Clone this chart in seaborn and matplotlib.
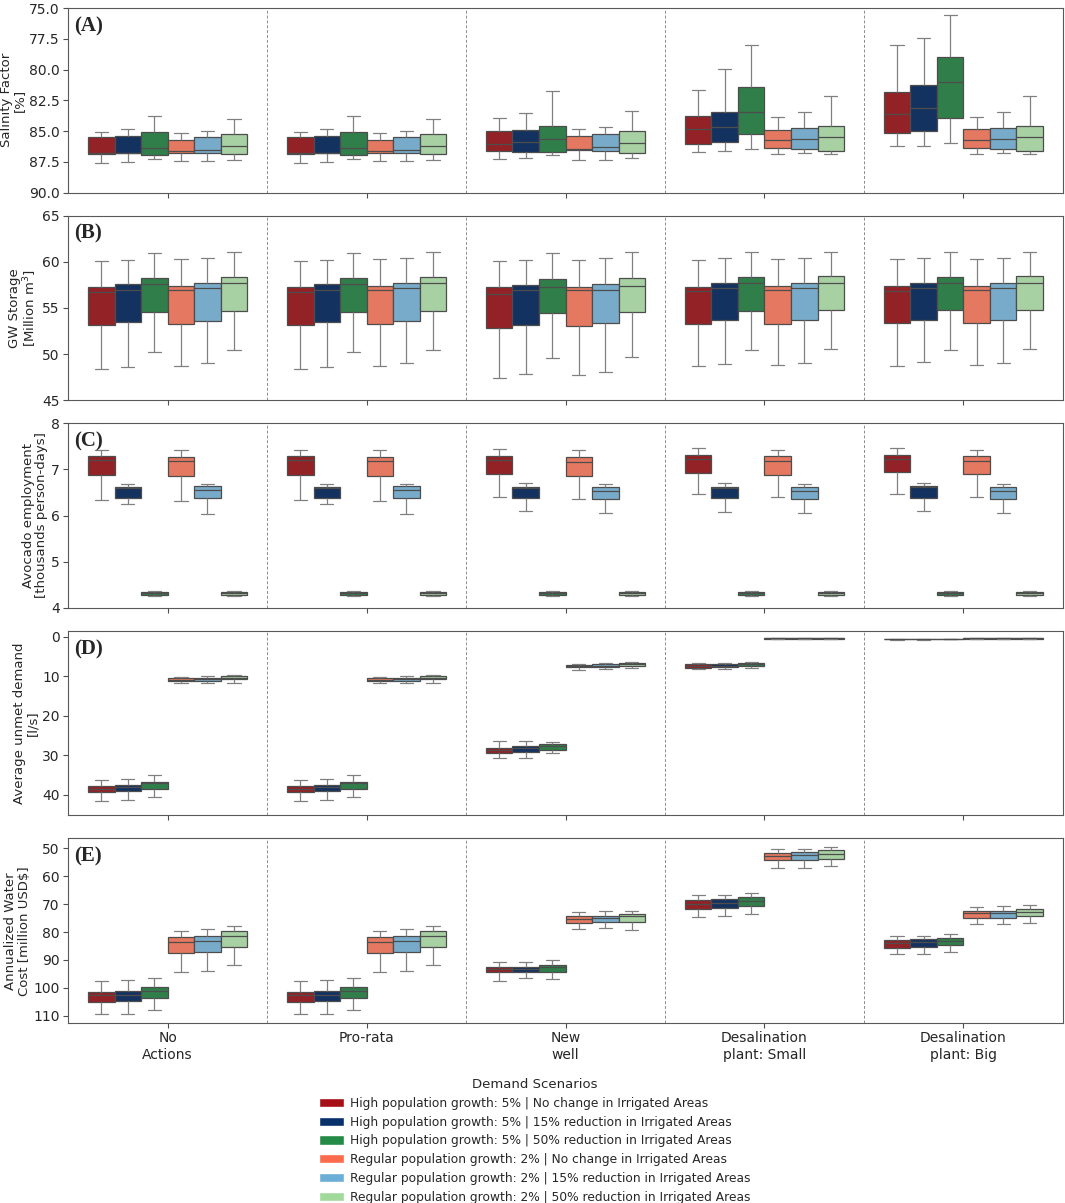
import numpy as np
import pandas as pd
import matplotlib
matplotlib.use('Agg')
import matplotlib.pyplot as plt
from matplotlib.patches import Patch
import seaborn as sns

# actions on the x axis
actions = ['No\nActions', 'Pro-rata', 'New\nwell', 'Desalination\nplant: Small', 'Desalination\nplant: Big']

# demand scenarios (hue)
scenarios = ['High population growth: 5% | No change in Irrigated Areas',
             'High population growth: 5% | 15% reduction in Irrigated Areas',
             'High population growth: 5% | 50% reduction in Irrigated Areas',
             'Regular population growth: 2% | No change in Irrigated Areas',
             'Regular population growth: 2% | 15% reduction in Irrigated Areas',
             'Regular population growth: 2% | 50% reduction in Irrigated Areas']
colors = ['#a50f15', '#08306b', '#238b45', '#fb6a4a', '#6baed6', '#a1d99b']

# each box as [whisker low, q1, median, q3, whisker high]
# one row per action, one box per scenario
salinity = [
    [[85.05, 85.52, 86.80, 86.84, 87.58], [84.81, 85.43, 86.80, 86.82, 87.55], [83.75, 85.11, 86.41, 86.96, 87.28],
     [85.16, 85.71, 86.60, 86.82, 87.47], [85.00, 85.52, 86.52, 86.79, 87.47], [84.00, 85.22, 86.25, 86.85, 87.31]],
    [[85.05, 85.52, 86.80, 86.84, 87.58], [84.81, 85.43, 86.80, 86.82, 87.55], [83.75, 85.11, 86.41, 86.96, 87.28],
     [85.16, 85.71, 86.60, 86.82, 87.47], [85.00, 85.52, 86.52, 86.79, 87.47], [84.00, 85.22, 86.25, 86.85, 87.31]],
    [[83.97, 85.03, 86.09, 86.60, 87.25], [83.56, 84.89, 85.92, 86.66, 87.15], [81.77, 84.59, 85.65, 86.66, 86.93],
     [84.81, 85.41, 86.47, 86.55, 87.39], [84.65, 85.22, 86.33, 86.58, 87.39], [83.34, 84.97, 85.98, 86.79, 87.17]],
    [[81.63, 83.80, 84.81, 86.03, 86.68], [79.97, 83.42, 84.67, 85.90, 86.60], [77.99, 81.44, 83.42, 85.22, 86.47],
     [83.83, 84.89, 85.76, 86.36, 86.88], [83.45, 84.78, 85.68, 86.49, 86.82], [82.12, 84.57, 85.52, 86.58, 86.90]],
    [[77.99, 81.82, 83.61, 85.16, 86.25], [77.47, 81.22, 83.10, 85.00, 86.20], [75.60, 78.99, 81.03, 83.91, 85.95],
     [83.83, 84.86, 85.76, 86.36, 86.85], [83.45, 84.78, 85.68, 86.47, 86.77], [82.12, 84.57, 85.52, 86.58, 86.90]],
]

gw_storage = [
    [[48.42, 53.14, 56.78, 57.22, 60.14], [48.57, 53.43, 56.90, 57.58, 60.24], [50.23, 54.55, 57.58, 58.23, 60.96],
     [48.71, 53.25, 56.89, 57.40, 60.32], [49.00, 53.61, 57.18, 57.68, 60.39], [50.41, 54.69, 57.65, 58.37, 61.04]],
    [[48.42, 53.14, 56.78, 57.22, 60.14], [48.57, 53.43, 56.90, 57.58, 60.24], [50.23, 54.55, 57.58, 58.23, 60.96],
     [48.71, 53.25, 56.89, 57.40, 60.32], [49.00, 53.61, 57.18, 57.68, 60.39], [50.41, 54.69, 57.65, 58.37, 61.04]],
    [[47.41, 52.86, 56.53, 57.22, 60.14], [47.80, 53.20, 56.90, 57.50, 60.24], [49.58, 54.41, 57.32, 58.19, 60.96],
     [47.74, 53.04, 56.89, 57.29, 60.21], [48.03, 53.32, 56.96, 57.61, 60.39], [49.68, 54.51, 57.43, 58.26, 61.04]],
    [[48.68, 53.29, 56.86, 57.32, 60.24], [48.93, 53.68, 57.11, 57.65, 60.39], [50.48, 54.69, 57.65, 58.37, 61.04],
     [48.78, 53.29, 56.89, 57.36, 60.32], [49.04, 53.72, 57.14, 57.72, 60.42], [50.51, 54.77, 57.65, 58.41, 61.11]],
    [[48.75, 53.36, 56.86, 57.36, 60.32], [49.11, 53.72, 57.11, 57.68, 60.39], [50.41, 54.73, 57.68, 58.37, 61.07],
     [48.78, 53.40, 56.89, 57.36, 60.32], [49.04, 53.72, 57.18, 57.72, 60.39], [50.55, 54.80, 57.65, 58.41, 61.11]],
]

employment = [
    [[6.34, 6.87, 7.20, 7.28, 7.43], [6.26, 6.37, 6.60, 6.61, 6.69], [4.25, 4.28, 4.32, 4.35, 4.36],
     [6.32, 6.86, 7.18, 7.27, 7.43], [6.04, 6.37, 6.55, 6.63, 6.69], [4.25, 4.28, 4.32, 4.35, 4.36]],
    [[6.34, 6.87, 7.20, 7.28, 7.43], [6.26, 6.37, 6.60, 6.61, 6.69], [4.25, 4.28, 4.32, 4.35, 4.36],
     [6.32, 6.86, 7.18, 7.27, 7.43], [6.04, 6.37, 6.55, 6.63, 6.69], [4.25, 4.28, 4.32, 4.35, 4.36]],
    [[6.41, 6.89, 7.20, 7.29, 7.45], [6.09, 6.37, 6.60, 6.62, 6.71], [4.25, 4.28, 4.32, 4.35, 4.36],
     [6.35, 6.86, 7.17, 7.27, 7.43], [6.05, 6.35, 6.54, 6.61, 6.68], [4.25, 4.28, 4.32, 4.35, 4.36]],
    [[6.46, 6.93, 7.22, 7.31, 7.46], [6.08, 6.38, 6.60, 6.62, 6.70], [4.25, 4.28, 4.32, 4.35, 4.36],
     [6.40, 6.88, 7.19, 7.29, 7.43], [6.05, 6.36, 6.54, 6.61, 6.68], [4.25, 4.28, 4.32, 4.35, 4.36]],
    [[6.47, 6.94, 7.22, 7.32, 7.46], [6.09, 6.38, 6.61, 6.63, 6.70], [4.25, 4.28, 4.32, 4.35, 4.36],
     [6.40, 6.89, 7.19, 7.29, 7.43], [6.06, 6.36, 6.54, 6.61, 6.68], [4.25, 4.28, 4.32, 4.35, 4.36]],
]

unmet = [
    [[36.2, 37.9, 38.5, 39.3, 41.6], [36.0, 37.6, 38.0, 39.1, 41.4], [35.1, 36.8, 37.2, 38.5, 40.6],
     [10.2, 10.55, 10.9, 11.2, 11.8], [10.0, 10.4, 10.8, 11.15, 11.7], [9.6, 10.0, 10.4, 10.8, 11.6]],
    [[36.2, 37.9, 38.5, 39.3, 41.6], [36.0, 37.6, 38.0, 39.1, 41.4], [35.1, 36.8, 37.2, 38.5, 40.6],
     [10.2, 10.55, 10.9, 11.2, 11.8], [10.0, 10.4, 10.8, 11.15, 11.7], [9.6, 10.0, 10.4, 10.8, 11.6]],
    [[26.5, 28.2, 28.6, 29.4, 30.7], [26.3, 27.8, 28.3, 29.1, 30.7], [26.8, 27.2, 27.7, 28.7, 29.5],
     [6.8, 7.15, 7.4, 7.75, 8.3], [6.55, 7.0, 7.3, 7.65, 8.1], [6.3, 6.6, 7.0, 7.4, 7.9]],
    [[6.6, 7.0, 7.4, 7.8, 8.2], [6.6, 7.0, 7.3, 7.75, 8.1], [6.3, 6.6, 7.0, 7.4, 7.8],
     [0.30, 0.38, 0.42, 0.46, 0.55], [0.30, 0.38, 0.42, 0.46, 0.55], [0.30, 0.38, 0.42, 0.46, 0.55]],
    [[0.50, 0.55, 0.60, 0.65, 0.70], [0.50, 0.55, 0.60, 0.65, 0.70], [0.48, 0.53, 0.58, 0.63, 0.68],
     [0.30, 0.38, 0.42, 0.46, 0.55], [0.30, 0.38, 0.42, 0.46, 0.55], [0.30, 0.38, 0.42, 0.46, 0.55]],
]

water_cost = [
    [[97.6, 101.5, 102.6, 105.2, 109.4], [97.3, 101.1, 102.4, 104.8, 109.2], [96.5, 99.8, 101.0, 103.8, 107.9],
     [79.5, 81.9, 83.6, 87.6, 94.3], [79.0, 81.4, 83.2, 87.1, 93.8], [77.7, 79.6, 81.5, 85.5, 91.8]],
    [[97.6, 101.5, 102.6, 105.2, 109.4], [97.3, 101.1, 102.4, 104.8, 109.2], [96.5, 99.8, 101.0, 103.8, 107.9],
     [79.5, 81.9, 83.6, 87.6, 94.3], [79.0, 81.4, 83.2, 87.1, 93.8], [77.7, 79.6, 81.5, 85.5, 91.8]],
    [[90.8, 92.7, 93.2, 94.4, 97.5], [90.8, 92.4, 93.1, 94.5, 96.5], [90.2, 91.7, 92.6, 94.2, 96.7],
     [73.0, 74.4, 75.2, 76.9, 78.8], [72.6, 74.4, 75.1, 76.5, 78.7], [72.6, 73.5, 74.3, 76.5, 79.2]],
    [[66.9, 68.6, 69.9, 71.8, 74.5], [66.8, 68.2, 69.6, 71.4, 74.4], [66.1, 67.3, 68.8, 70.6, 73.6],
     [50.2, 51.8, 52.9, 54.3, 56.9], [50.1, 51.2, 52.5, 54.3, 56.9], [49.5, 50.5, 51.9, 53.7, 56.2]],
    [[81.5, 83.0, 83.9, 85.6, 88.0], [81.4, 82.6, 83.7, 85.5, 87.9], [80.8, 82.1, 83.2, 84.8, 87.3],
     [71.1, 72.5, 73.3, 75.1, 77.3], [70.8, 72.3, 73.3, 74.9, 77.1], [70.5, 71.8, 73.0, 74.4, 76.7]],
]

panels = [
    ('(A)', 'Salinity Factor\n[%]', salinity, (90, 75), [75, 77.5, 80, 82.5, 85, 87.5, 90]),
    ('(B)', 'GW Storage\n[Million m$^3$]', gw_storage, (45, 65), [45, 50, 55, 60, 65]),
    ('(C)', 'Avocado employment\n[thousands person-days]', employment, (4, 8), [4, 5, 6, 7, 8]),
    ('(D)', 'Average unmet demand\n[l/s]', unmet, (45.3, -1.5), [0, 10, 20, 30, 40]),
    ('(E)', 'Annualized Water\nCost [million USD\\$]', water_cost, (112.6, 46.5), [50, 60, 70, 80, 90, 100, 110]),
]


def to_long(values):
    rows = []
    for a, act in enumerate(actions):
        for s, sc in enumerate(scenarios):
            for v in values[a][s]:
                rows.append({'action': act, 'scenario': sc, 'value': v})
    return pd.DataFrame(rows)


sns.set_style('white')
plt.rcParams['font.family'] = ['DejaVu Sans']

fig, axes = plt.subplots(5, 1, figsize=(10.65, 12.03), dpi=100, sharex=True)
fig.subplots_adjust(left=0.064, right=0.998, top=0.9933, bottom=0.1496, hspace=0.125)

for ax, (tag, ylab, vals, ylim, ticks) in zip(axes, panels):
    df = to_long(vals)
    sns.boxplot(data=df, x='action', y='value', hue='scenario', hue_order=scenarios,
                palette=colors, whis=(0, 100), showfliers=False, width=0.8, gap=0,
                linecolor='0.3', linewidth=0.9,
                whiskerprops={'color': '0.5'}, capprops={'color': '0.5'},
                legend=False, ax=ax)
    for xs in [0.5, 1.5, 2.5, 3.5]:
        ax.axvline(xs, color='0.55', ls=(0, (3, 2)), lw=0.7, zorder=0)
    ax.set_yticks(ticks)
    ax.set_ylim(*ylim)
    ax.set_xlim(-0.5, 4.5)
    ax.set_xlabel('')
    ax.set_ylabel(ylab, fontsize=9.5, labelpad=2, linespacing=1.05)
    ax.tick_params(axis='both', labelsize=10, length=3.5, pad=2.5, color='0.3', bottom=True, left=True)
    for sp in ax.spines.values():
        sp.set_color('0.35')
    ax.text(0.006, 0.955, tag, transform=ax.transAxes, ha='left', va='top',
            fontsize=15, fontweight='bold', family=['Liberation Serif', 'DejaVu Serif'])

axes[-1].tick_params(axis='x', labelsize=10)

handles = [Patch(facecolor=c, label=s) for c, s in zip(colors, scenarios)]
fig.legend(handles=handles, title='Demand Scenarios', loc='upper center',
           bbox_to_anchor=(0.502, 0.113), frameon=False, fontsize=8.8, title_fontsize=9.5,
           handlelength=2.0, handleheight=0.8, handletextpad=0.5, labelspacing=0.47)

fig.savefig('out.png', dpi=100)
